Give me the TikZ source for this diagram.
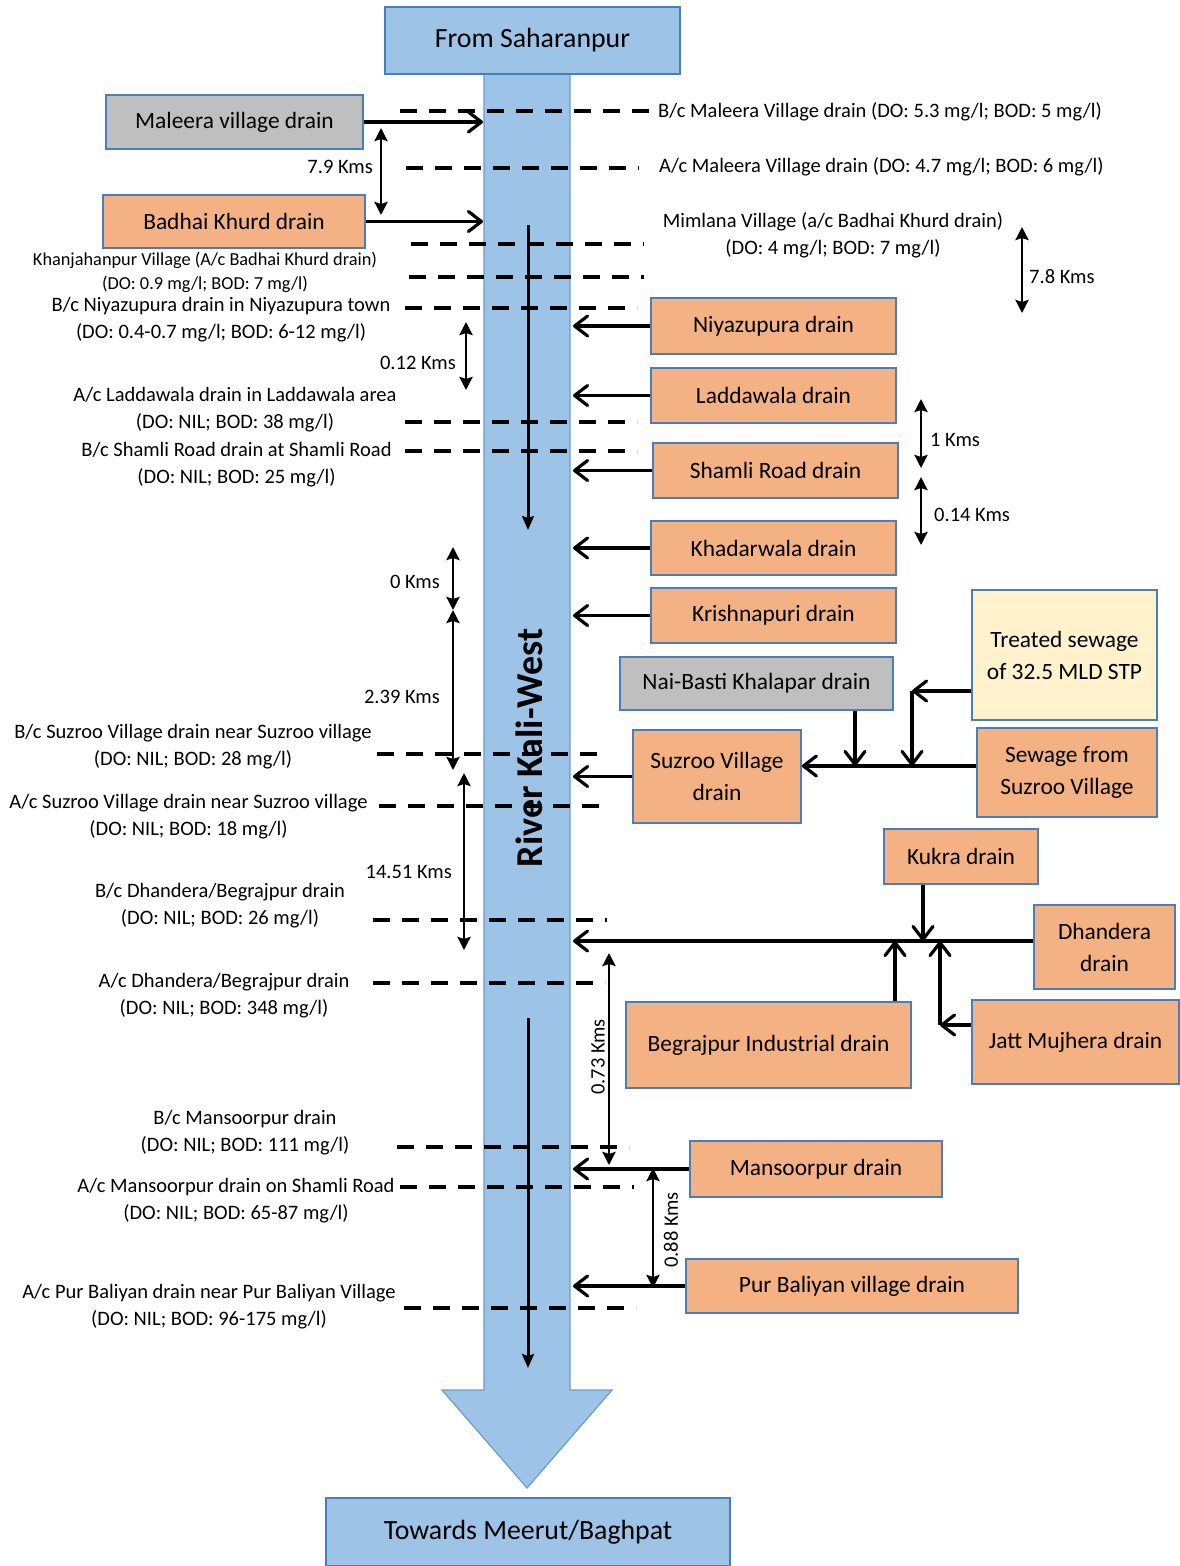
\documentclass[tikz,border=0pt]{standalone}
\usepackage{fontspec}
\setmainfont{Carlito}
\usetikzlibrary{arrows.meta,calc}
\definecolor{riverblue}{HTML}{9DC3E6}
\definecolor{riveredge}{HTML}{6F9BCB}
\definecolor{boxedge}{HTML}{4A7EBB}
\definecolor{orangebox}{HTML}{F4B183}
\definecolor{graybox}{HTML}{BFBFBF}
\definecolor{creambox}{HTML}{FFF2CC}
\begin{document}
\begin{tikzpicture}[x=1pt,y=-1pt,
  obox/.style={draw=boxedge,line width=1.6pt,fill=orangebox,font=\fontsize{23.4}{32}\selectfont,align=center,inner sep=0pt},
  gbox/.style={obox,fill=graybox},
  cbox/.style={obox,fill=creambox},
  bbox/.style={obox,fill=riverblue,font=\fontsize{27.8}{32}\selectfont},
  flow/.style={line width=3.2pt,-{Straight Barb[length=13pt,width=20pt,round]}},
  rflow/.style={line width=3pt,-{Stealth[length=14pt,width=12pt,inset=2pt]}},
  dist/.style={line width=2.8pt,{Stealth[length=13pt,width=13pt,inset=2pt]}-{Stealth[length=13pt,width=13pt,inset=2pt]}},
  dline/.style={line width=3.5pt,dash pattern=on 17pt off 12pt},
  ann/.style={font=\fontsize{20.5}{27}\selectfont,align=center,inner sep=0pt},
  sann/.style={font=\fontsize{18.3}{24}\selectfont,align=center,inner sep=0pt}
]
\useasboundingbox (0,0) rectangle (1180,1566);
\fill[white] (0,0) rectangle (1180,1566);

% river
\draw[fill=riverblue,draw=riveredge,line width=1.2pt]
  (484,60) -- (484,1390) -- (442,1390) -- (527,1488) -- (612,1390) -- (570,1390) -- (570,60) -- cycle;
\coordinate (riverL) at (483,0);
\coordinate (riverR) at (573,0);
\node[font=\bfseries\fontsize{38}{42}\selectfont,rotate=90,inner sep=0pt] (river) at (529,748) {River Kali-West};

% arrows inside the river
\coordinate (ra1) at (528,225); \coordinate (ra2) at (528,530);
\coordinate (rb1) at (528,1018); \coordinate (rb2) at (528,1368);
\draw[rflow] (ra1) -- (ra2);
\draw[rflow] (rb1) -- (rb2);

% dashed sampling lines
\draw[dline] (400,111) -- (655,111);
\draw[dline] (406,168) -- (639,168);
\draw[dline] (411,244) -- (644,244);
\draw[dline] (409,277) -- (644,277);
\draw[dline] (405,308) -- (637,308);
\draw[dline] (405,422) -- (637,422);
\draw[dline] (405,451) -- (637,451);
\draw[dline] (377,754) -- (607,754);
\draw[dline] (379,806) -- (607,806);
\draw[dline] (373,920) -- (607,920);
\draw[dline] (373,983) -- (605,983);
\draw[dline] (397,1147) -- (629,1147);
\draw[dline] (400,1187) -- (634,1187);
\draw[dline] (404,1308) -- (636,1308);

% end boxes
\node[bbox,minimum width=295pt,minimum height=67pt] (from) at (532.5,40.5) {From Saharanpur};
\node[bbox,minimum width=404pt,minimum height=68pt] (towards) at (528,1532) {Towards Meerut/Baghpat};

% drain boxes
\node[gbox,minimum width=257pt,minimum height=54pt] (maleera) at (234.5,122) {Maleera village drain};
\node[obox,minimum width=262pt,minimum height=53pt] (badhai) at (234,221.5) {Badhai Khurd drain};
\node[obox,minimum width=245pt,minimum height=56pt] (niyazupura) at (773.5,326) {Niyazupura drain};
\node[obox,minimum width=245pt,minimum height=55pt] (laddawala) at (773.5,395.5) {Laddawala drain};
\node[obox,minimum width=245pt,minimum height=55pt] (shamli) at (775.5,470.5) {Shamli Road drain};
\node[obox,minimum width=245pt,minimum height=54pt] (khadarwala) at (773.5,548) {Khadarwala drain};
\node[obox,minimum width=245pt,minimum height=55pt] (krishnapuri) at (773.5,615.5) {Krishnapuri drain};
\node[cbox,minimum width=185pt,minimum height=130pt] (treated) at (1064.5,655) {Treated sewage\\of 32.5 MLD STP};
\node[gbox,minimum width=273pt,minimum height=53pt] (naibasti) at (756.5,683.5) {Nai-Basti Khalapar drain};
\node[obox,minimum width=168pt,minimum height=93pt] (suzroo) at (717,776.5) {Suzroo Village\\drain};
\node[obox,minimum width=180pt,minimum height=89pt] (sewage) at (1067,772.5) {Sewage from\\Suzroo Village};
\node[obox,minimum width=154pt,minimum height=55pt] (kukra) at (961,856.5) {Kukra drain};
\node[obox,minimum width=141pt,minimum height=84pt] (dhandera) at (1104.5,947) {Dhandera\\drain};
\node[obox,minimum width=285pt,minimum height=86pt] (begrajpur) at (768.5,1045) {Begrajpur Industrial drain};
\node[obox,minimum width=207pt,minimum height=84pt] (jatt) at (1075.5,1042) {Jatt Mujhera drain};
\node[obox,minimum width=252pt,minimum height=56pt] (mansoorpur) at (816,1169) {Mansoorpur drain};
\node[obox,minimum width=332pt,minimum height=54pt] (purbaliyan) at (852,1286) {Pur Baliyan village drain};

% flows into the river
\draw[flow] (maleera.east) -- (maleera.east -| riverL);
\draw[flow] (badhai.east) -- (badhai.east -| riverL);
\draw[flow] (niyazupura.west) -- (niyazupura.west -| riverR);
\draw[flow] (laddawala.west) -- (laddawala.west -| riverR);
\draw[flow] (shamli.west) -- (shamli.west -| riverR);
\draw[flow] (khadarwala.west) -- (khadarwala.west -| riverR);
\draw[flow] (krishnapuri.west) -- (krishnapuri.west -| riverR);
\draw[flow] (suzroo.west) -- (suzroo.west -| riverR);
\draw[flow] (mansoorpur.west) -- (mansoorpur.west -| riverR);
\draw[flow] (purbaliyan.west) -- (purbaliyan.west -| riverR);

% Suzroo network
\coordinate (sline) at (0,766);
\coordinate (tcorner) at (912,691);
\coordinate (nbx) at (855,0);
\draw[flow] (sewage.west |- sline) -- (suzroo.east |- sline);
\draw[flow] (naibasti.south -| nbx) -- (nbx |- sline);
\draw[flow] (treated.west |- tcorner) -- (tcorner);
\draw[flow] (tcorner) -- (tcorner |- sline);

% Dhandera network
\coordinate (dline) at (0,941);
\coordinate (kx) at (923,0);
\coordinate (bx) at (895,0);
\coordinate (jcorner) at (940,1025);
\draw[flow] (dhandera.west |- dline) -- (riverR |- dline);
\draw[flow] (kukra.south -| kx) -- (kx |- dline);
\draw[flow] (begrajpur.north -| bx) -- (bx |- dline);
\draw[flow] (jatt.west |- jcorner) -- (jcorner);
\draw[flow] (jcorner) -- (jcorner |- dline);

% distance markers
\draw[dist] (381,128) -- (381,215);
\node[ann,anchor=east] at (373,167) {7.9 Kms};
\draw[dist] (1022,227) -- (1022,313);
\node[ann,anchor=west] at (1029,277) {7.8 Kms};
\draw[dist] (466,322) -- (466,390);
\node[ann,anchor=east] at (456,363) {0.12 Kms};
\draw[dist] (921,399) -- (921,468);
\node[ann,anchor=west] at (930,440) {1 Kms};
\draw[dist] (921,477) -- (921,545);
\node[ann,anchor=west] at (934,515) {0.14 Kms};
\draw[dist] (453,547) -- (453,610);
\node[ann,anchor=east] at (440,582) {0 Kms};
\draw[dist] (453,610) -- (453,770);
\node[ann,anchor=east] at (440,697) {2.39 Kms};
\draw[dist] (464,773) -- (464,950);
\node[ann,anchor=east] at (452,872) {14.51 Kms};
\draw[dist] (609,953) -- (609,1165);
\node[ann,rotate=90] at (598,1057) {0.73 Kms};
\draw[dist] (653,1168) -- (653,1288);
\node[ann,rotate=90] at (671,1230) {0.88 Kms};

% sampling labels
\node[ann,anchor=west] at (658,112) {B/c Maleera Village drain (DO: 5.3 mg/l; BOD: 5 mg/l)};
\node[ann,anchor=west] at (659,167) {A/c Maleera Village drain (DO: 4.7 mg/l; BOD: 6 mg/l)};
\node[ann] at (833,235) {Mimlana Village (a/c Badhai Khurd drain)\\(DO: 4 mg/l; BOD: 7 mg/l)};
\node[sann] at (205,272) {Khanjahanpur Village (A/c Badhai Khurd drain)\\(DO: 0.9 mg/l; BOD: 7 mg/l)};
\node[ann] at (221,320) {B/c Niyazupura drain in Niyazupura town\\(DO: 0.4-0.7 mg/l; BOD: 6-12 mg/l)};
\node[ann] at (235,409.5) {A/c Laddawala drain in Laddawala area\\(DO: NIL; BOD: 38 mg/l)};
\node[ann] at (236.5,464.5) {B/c Shamli Road drain at Shamli Road\\(DO: NIL; BOD: 25 mg/l)};
\node[ann] at (193,746.5) {B/c Suzroo Village drain near Suzroo village\\(DO: NIL; BOD: 28 mg/l)};
\node[ann] at (188.5,816.5) {A/c Suzroo Village drain near Suzroo village\\(DO: NIL; BOD: 18 mg/l)};
\node[ann] at (220,905.5) {B/c Dhandera/Begrajpur drain\\(DO: NIL; BOD: 26 mg/l)};
\node[ann] at (224,995.5) {A/c Dhandera/Begrajpur drain\\(DO: NIL; BOD: 348 mg/l)};
\node[ann] at (245,1133) {B/c Mansoorpur drain\\(DO: NIL; BOD: 111 mg/l)};
\node[ann] at (236,1200.5) {A/c Mansoorpur drain on Shamli Road\\(DO: NIL; BOD: 65-87 mg/l)};
\node[ann] at (209,1306.5) {A/c Pur Baliyan drain near Pur Baliyan Village\\(DO: NIL; BOD: 96-175 mg/l)};
\end{tikzpicture}
\end{document}
